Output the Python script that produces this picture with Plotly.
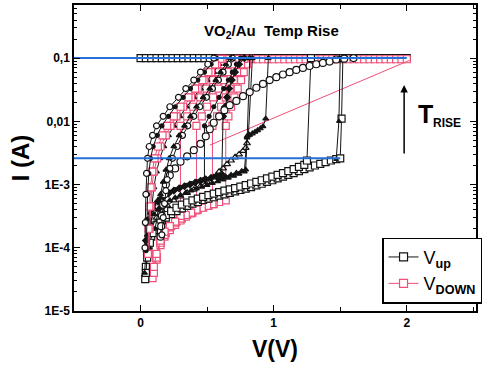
import plotly.graph_objects as go

# ---------------- data: I-V sweeps of the VO2/Au device at rising temperature ----------------
BLACK = "#141414"
PINK = "#ef4f78"
BLUE = "#2470d8"

I_COMPLIANCE = 0.1

# voltage steps of the compliance-limited part of the sweeps
V_ROW = [0.00, 0.04, 0.08, 0.12, 0.16, 0.20, 0.24, 0.28, 0.32, 0.36, 0.40, 0.44, 0.48, 0.52,
         0.56, 0.60, 0.64, 0.68, 0.72, 0.76, 0.80, 0.84, 0.88, 0.92, 0.96, 1.00, 1.04, 1.08,
         1.12, 1.16, 1.20, 1.24, 1.28, 1.32, 1.36, 1.40, 1.44, 1.48, 1.52, 1.56, 1.60, 1.64,
         1.68, 1.72, 1.76, 1.80, 1.84, 1.88, 1.92, 1.96, 2.00]
I_ROW_DOWN = 0.096

# ---- up sweeps: insulating branch, then switching to the metallic state ----
U1_V = [0.035, 0.04, 0.05, 0.06, 0.08, 0.10, 0.13, 0.16, 0.19, 0.23, 0.27, 0.31, 0.35, 0.39,
        0.43, 0.47, 0.51, 0.55, 0.59, 0.63, 0.67, 0.71, 0.75, 0.79, 0.83, 0.87, 0.91, 0.95,
        0.99, 1.03, 1.07, 1.11, 1.15, 1.19, 1.23, 1.27, 1.31, 1.35, 1.39, 1.43, 1.47, 1.50,
        1.51, 1.52]
U1_I = [3.2e-5, 5e-5, 8e-5, 1.1e-4, 1.5e-4, 1.9e-4, 2.3e-4, 2.7e-4, 3.0e-4, 3.4e-4, 3.8e-4,
        4.2e-4, 4.6e-4, 5.0e-4, 5.3e-4, 5.7e-4, 6.0e-4, 6.3e-4, 6.7e-4, 7.0e-4, 7.4e-4, 7.8e-4,
        8.2e-4, 8.6e-4, 9.1e-4, 9.7e-4, 1.03e-3, 1.1e-3, 1.17e-3, 1.25e-3, 1.33e-3, 1.42e-3,
        1.52e-3, 1.63e-3, 1.75e-3, 1.87e-3, 2.0e-3, 2.13e-3, 2.27e-3, 2.4e-3, 2.52e-3, 2.6e-3,
        0.011, 0.1]

U2_V = [0.04, 0.05, 0.07, 0.09, 0.12, 0.15, 0.19, 0.23, 0.27, 0.31, 0.35, 0.39, 0.43, 0.47,
        0.51, 0.55, 0.59, 0.63, 0.67, 0.71, 0.75, 0.79, 0.83, 0.87, 0.91, 0.95, 0.99, 1.03,
        1.07, 1.11, 1.15, 1.19, 1.23, 1.25, 1.28]
U2_I = [4e-5, 7e-5, 1.2e-4, 1.7e-4, 2.3e-4, 2.8e-4, 3.3e-4, 3.8e-4, 4.3e-4, 4.8e-4, 5.2e-4,
        5.6e-4, 6.0e-4, 6.4e-4, 6.8e-4, 7.2e-4, 7.6e-4, 8.0e-4, 8.4e-4, 8.8e-4, 9.3e-4, 9.8e-4,
        1.04e-3, 1.1e-3, 1.17e-3, 1.25e-3, 1.33e-3, 1.42e-3, 1.52e-3, 1.63e-3, 1.76e-3, 1.9e-3,
        2.05e-3, 2.4e-3, 0.1]

U3_V = [0.03, 0.04, 0.05, 0.07, 0.10, 0.14, 0.18, 0.22, 0.26, 0.30, 0.34, 0.38, 0.42, 0.46,
        0.50, 0.54, 0.58, 0.62, 0.66, 0.70, 0.74, 0.78, 0.80, 0.82, 0.84, 0.86, 0.88, 0.90,
        0.92, 0.94, 0.96]
U3_I = [4e-5, 9e-5, 1.6e-4, 2.5e-4, 3.4e-4, 4.2e-4, 4.9e-4, 5.6e-4, 6.2e-4, 6.8e-4, 7.4e-4,
        8.0e-4, 8.6e-4, 9.2e-4, 9.8e-4, 1.05e-3, 1.12e-3, 1.2e-3, 1.28e-3, 1.37e-3, 1.47e-3,
        1.6e-3, 5.8e-3, 6.1e-3, 6.4e-3, 6.8e-3, 7.2e-3, 7.7e-3, 8.3e-3, 0.011, 0.1]

U4_V = [0.05, 0.08, 0.12, 0.16, 0.20, 0.25, 0.30, 0.35, 0.40, 0.45, 0.50, 0.55, 0.59, 0.62,
        0.65, 0.68, 0.71, 0.74, 0.77, 0.79, 0.80, 0.82]
U4_I = [1e-4, 2e-4, 3e-4, 3.9e-4, 4.7e-4, 5.6e-4, 6.5e-4, 7.4e-4, 8.3e-4, 9.4e-4, 1.1e-3,
        1.3e-3, 1.6e-3, 1.8e-3, 2.1e-3, 2.4e-3, 2.7e-3, 3.0e-3, 3.4e-3, 3.8e-3, 4.5e-3, 0.1]

U5_V = [0.04, 0.06, 0.09, 0.13, 0.17, 0.21, 0.25, 0.29, 0.33, 0.37, 0.41, 0.45, 0.49, 0.53,
        0.57, 0.61, 0.62, 0.635, 0.65, 0.665, 0.685, 0.71, 0.74, 0.78]
U5_I = [1.3e-4, 2.8e-4, 4.2e-4, 5.4e-4, 6.4e-4, 7.2e-4, 8.0e-4, 8.7e-4, 9.4e-4, 1.0e-3,
        1.07e-3, 1.14e-3, 1.21e-3, 1.28e-3, 1.36e-3, 1.45e-3, 0.012, 0.017, 0.024, 0.033,
        0.045, 0.06, 0.08, 0.1]

U7_V = [0.60, 0.64, 0.68, 0.72, 0.76, 0.79, 0.80, 0.81, 0.84]
U7_I = [1.25e-3, 1.33e-3, 1.42e-3, 1.52e-3, 1.63e-3, 1.72e-3, 5.5e-3, 6.0e-3, 0.1]

# second switching event close to 1.5 V
U8_V = [1.47, 1.49, 1.50]
U8_I = [2.5e-3, 0.01, 0.1]

# up sweep switching at 0.48 V onto the metallic branch (small dots)
K7_V = [0.035, 0.05, 0.07, 0.10, 0.14, 0.18, 0.22, 0.26, 0.30, 0.34, 0.38, 0.42, 0.46, 0.48,
        0.48, 0.515, 0.55, 0.59, 0.625, 0.66, 0.69, 0.72, 0.75]
K7_I = [1e-4, 2.2e-4, 3.5e-4, 4.8e-4, 5.9e-4, 6.8e-4, 7.6e-4, 8.3e-4, 9.0e-4, 9.7e-4,
        1.04e-3, 1.11e-3, 1.18e-3, 1.22e-3, 0.0085, 0.012, 0.017, 0.024, 0.033, 0.045, 0.06,
        0.08, 0.1]

# slow rising sweep (open circles)
C_V = [0.15, 0.155, 0.16, 0.17, 0.18, 0.19, 0.22, 0.26, 0.30, 0.35, 0.40, 0.45, 0.49, 0.52,
       0.55, 0.59, 0.63, 0.67, 0.72, 0.77, 0.82, 0.87, 0.92, 0.97, 1.02, 1.07, 1.12, 1.17,
       1.22, 1.27, 1.32, 1.37, 1.42, 1.47, 1.53, 1.60]
C_I = [1.5e-4, 2.2e-4, 3.2e-4, 4.8e-4, 7e-4, 1.0e-3, 1.4e-3, 1.8e-3, 2.3e-3, 2.8e-3, 3.5e-3,
       4.4e-3, 5.8e-3, 7.5e-3, 9.5e-3, 0.012, 0.015, 0.018, 0.021, 0.025, 0.029, 0.034, 0.039,
       0.045, 0.05, 0.055, 0.06, 0.065, 0.07, 0.075, 0.08, 0.084, 0.088, 0.095, 0.098, 0.1]

# ---- metallic branches (arcs), outermost first ----
K0_V = [0.55, 0.505, 0.45, 0.40, 0.34, 0.285, 0.22, 0.17, 0.12, 0.09, 0.065, 0.052, 0.045,
        0.04, 0.036, 0.033]
K0_I = [0.1, 0.08, 0.06, 0.045, 0.033, 0.024, 0.017, 0.012, 0.0085, 0.006, 0.004, 0.0026,
        1.5e-3, 7e-4, 2.5e-4, 1e-4]

K1_V = [0.57, 0.53, 0.48, 0.43, 0.375, 0.32, 0.26, 0.21, 0.16, 0.125, 0.095, 0.075, 0.062,
        0.053, 0.047, 0.042]
K1_I = [0.1, 0.08, 0.06, 0.045, 0.033, 0.024, 0.017, 0.012, 0.0085, 0.006, 0.004, 0.0026,
        1.5e-3, 7e-4, 2.8e-4, 9e-5]

K2_V = [0.60, 0.56, 0.51, 0.465, 0.41, 0.36, 0.30, 0.25, 0.20, 0.165, 0.13, 0.105, 0.088,
        0.075, 0.066, 0.06, 0.055]
K2_I = [0.097, 0.08, 0.06, 0.045, 0.033, 0.024, 0.017, 0.012, 0.0085, 0.006, 0.004, 0.0026,
        1.6e-3, 9e-4, 4.5e-4, 2e-4, 8e-5]

K2B_V = [0.615, 0.575, 0.53, 0.48, 0.43, 0.38, 0.32, 0.27, 0.225, 0.19, 0.15, 0.125, 0.10,
         0.085, 0.075, 0.068, 0.062]
K2B_I = [0.097, 0.08, 0.06, 0.045, 0.033, 0.024, 0.017, 0.012, 0.0085, 0.006, 0.004, 0.0026,
         1.6e-3, 9e-4, 4.5e-4, 2e-4, 8e-5]

K3_V = [0.63, 0.59, 0.55, 0.50, 0.45, 0.40, 0.345, 0.295, 0.25, 0.21, 0.175, 0.145, 0.12,
        0.10, 0.085, 0.072, 0.065]
K3_I = [0.1, 0.08, 0.06, 0.045, 0.033, 0.024, 0.017, 0.012, 0.0085, 0.006, 0.004, 0.0026,
        1.6e-3, 9e-4, 4.5e-4, 2e-4, 1e-4]

K4_V = [0.66, 0.625, 0.585, 0.545, 0.495, 0.45, 0.395, 0.35, 0.30, 0.30, 0.26, 0.22, 0.18,
        0.15, 0.12, 0.10]
K4_I = [0.097, 0.08, 0.06, 0.045, 0.033, 0.024, 0.017, 0.012, 0.0085, 3.2e-4, 2.6e-4, 2.2e-4,
        1.8e-4, 1.3e-4, 8e-5, 5e-5]

K4B_V = [0.675, 0.64, 0.60, 0.565, 0.52, 0.47, 0.42, 0.375, 0.33, 0.29, 0.25, 0.215, 0.19,
         0.17, 0.15, 0.13, 0.11]
K4B_I = [0.1, 0.08, 0.06, 0.045, 0.033, 0.024, 0.017, 0.012, 0.0085, 0.006, 0.004, 0.0026,
         1.7e-3, 1.1e-3, 7e-4, 4e-4, 2e-4]

K5_V = [0.69, 0.66, 0.62, 0.585, 0.54, 0.495, 0.445, 0.40, 0.355, 0.315, 0.275, 0.24, 0.22,
        0.20, 0.19, 0.18, 0.17, 0.16]
K5_I = [0.1, 0.08, 0.06, 0.045, 0.033, 0.024, 0.017, 0.012, 0.0085, 0.006, 0.004, 0.0026,
        1.8e-3, 1.2e-3, 8e-4, 5e-4, 3e-4, 1.6e-4]

K6_V = [0.72, 0.69, 0.655, 0.625, 0.585, 0.545, 0.50, 0.46, 0.42, 0.42, 0.38, 0.34, 0.30,
        0.26, 0.22, 0.18, 0.15, 0.12, 0.10]
K6_I = [0.097, 0.08, 0.06, 0.045, 0.033, 0.024, 0.017, 0.012, 0.0085, 4.0e-4, 3.6e-4, 3.3e-4,
        2.9e-4, 2.5e-4, 2.1e-4, 1.6e-4, 1.2e-4, 7e-5, 4e-5]

K8_V = [0.78, 0.755, 0.725, 0.70, 0.67, 0.64, 0.605, 0.575, 0.54, 0.54, 0.50, 0.46, 0.42,
        0.38, 0.34, 0.30, 0.26, 0.22, 0.18, 0.15, 0.12, 0.10]
K8_I = [0.097, 0.08, 0.06, 0.045, 0.033, 0.024, 0.017, 0.012, 0.0085, 4.9e-4, 4.6e-4, 4.3e-4,
        3.9e-4, 3.5e-4, 3.1e-4, 2.7e-4, 2.3e-4, 1.9e-4, 1.5e-4, 1.1e-4, 6.5e-5, 4e-5]

K9_V = [0.82, 0.80, 0.775, 0.755, 0.73, 0.705, 0.68, 0.66, 0.64, 0.64, 0.59, 0.55, 0.51,
        0.47, 0.43, 0.39, 0.35, 0.31, 0.27, 0.23, 0.19, 0.15, 0.12, 0.10, 0.09]
K9_I = [0.097, 0.08, 0.06, 0.045, 0.033, 0.024, 0.017, 0.012, 0.0085, 5.6e-4, 5.3e-4, 4.9e-4,
        4.6e-4, 4.3e-4, 4.0e-4, 3.6e-4, 3.3e-4, 2.9e-4, 2.6e-4, 2.2e-4, 1.7e-4, 1.2e-4, 7e-5,
        4.5e-5, 3.3e-5]

# direct return segment of one down sweep
DS_V = [2.02, 0.52]
DS_I = [0.092, 0.0042]

# reference levels
REF_HIGH_V = [-0.5, 2.0]
REF_HIGH_I = [0.1, 0.1]
REF_LOW_V = [-0.5, 1.5]
REF_LOW_I = [2.6e-3, 2.6e-3]

# axis ticks
X_TICKS = [0, 1, 2]
X_MINOR = [-0.5, 0.5, 1.5, 2.5]
Y_TICKS = [1e-5, 1e-4, 1e-3, 1e-2, 1e-1]
Y_TICKTEXT = ["1E-5", "1E-4", "1E-3", "0,01", "0,1"]

# ---------------- figure ----------------
fig = go.Figure()


def sweep(v, i, color, symbol, size=7, name=None, legend=False, lw=1.0, mlw=1.2, hollow=False):
    # hollow markers: white face with a coloured outline
    fig.add_trace(go.Scatter(
        x=v, y=i, mode="lines+markers", name=name, showlegend=legend,
        line=dict(color=color, width=lw),
        marker=dict(symbol=symbol, size=size, color="white" if hollow else color,
                    line=dict(color=color, width=mlw)),
        hoverinfo="skip"))


# compliance rows
sweep(V_ROW, [I_COMPLIANCE] * len(V_ROW), BLACK, "square", size=7, hollow=True)
sweep(V_ROW[14:], [I_ROW_DOWN] * len(V_ROW[14:]), PINK, "square", size=7, hollow=True)

# down sweeps (pink), innermost first
for v, i in [(K9_V, K9_I), (K8_V, K8_I), (K6_V, K6_I), (K4_V, K4_I)]:
    sweep(v, i, PINK, "square", size=7, hollow=True)
fig.add_trace(go.Scatter(x=DS_V, y=DS_I, mode="lines", showlegend=False,
                         line=dict(color=PINK, width=1), hoverinfo="skip"))

# up sweeps (black)
sweep(U1_V, U1_I, BLACK, "square", size=7, hollow=True)
sweep(U2_V, U2_I, BLACK, "square", size=7, hollow=True)
sweep(U8_V, U8_I, BLACK, "triangle-up", size=4)
sweep(U4_V, U4_I, BLACK, "triangle-up", size=6, hollow=True)
sweep(U3_V, U3_I, BLACK, "triangle-up", size=5)
sweep(U7_V, U7_I, BLACK, "triangle-up", size=5)
sweep(U5_V, U5_I, BLACK, "diamond", size=5)
sweep(K7_V, K7_I, BLACK, "circle", size=4)
sweep(C_V, C_I, BLACK, "circle", size=7, hollow=True)
sweep(K5_V, K5_I, BLACK, "circle", size=6, hollow=True)
sweep(K4B_V, K4B_I, BLACK, "triangle-up", size=5)

# outer metallic arcs
sweep(K3_V, K3_I, BLACK, "triangle-up", size=5)
sweep(K2B_V, K2B_I, PINK, "square", size=7, hollow=True)
sweep(K2_V, K2_I, PINK, "square", size=7, hollow=True)
sweep(K1_V, K1_I, BLACK, "circle", size=4)
sweep(K0_V, K0_I, BLACK, "circle", size=6, hollow=True)

# reference levels
for v, i in [(REF_HIGH_V, REF_HIGH_I), (REF_LOW_V, REF_LOW_I)]:
    fig.add_trace(go.Scatter(x=v, y=i, mode="lines", showlegend=False,
                             line=dict(color=BLUE, width=2), hoverinfo="skip"))

# legend entries
sweep([None], [None], BLACK, "square", size=8, name="V<sub><b>up</b></sub>",
      legend=True, hollow=True)
sweep([None], [None], PINK, "square", size=8, name="V<sub><b>DOWN</b></sub>",
      legend=True, hollow=True)

FONT = "Liberation Sans, Arial, sans-serif"

fig.update_layout(
    width=483, height=375,
    margin=dict(l=74, r=1, t=5, b=64),
    paper_bgcolor="white", plot_bgcolor="white",
    font=dict(family=FONT, color="black"),
    legend=dict(x=0.767, y=0.24, xanchor="left", yanchor="top",
                bordercolor="black", borderwidth=1.2, bgcolor="white",
                font=dict(size=18, family=FONT, color="black"),
                itemwidth=30, tracegroupgap=0),
    xaxis=dict(range=[-0.5, 2.52], tickmode="array", tickvals=X_TICKS,
               ticks="inside", ticklen=6, tickwidth=1.2, tickcolor="black",
               showline=True, linecolor="black", linewidth=1.5, mirror="ticks",
               showgrid=False, zeroline=False,
               tickfont=dict(size=12, family=FONT, weight="bold"),
               minor=dict(tickmode="array", tickvals=X_MINOR, ticks="inside",
                          ticklen=4, tickcolor="black", showgrid=False),
               title=dict(text="<b>V(V)</b>", font=dict(size=23, family=FONT),
                          standoff=12)),
    yaxis=dict(type="log", range=[-5, -0.16], tickmode="array", tickvals=Y_TICKS,
               ticktext=Y_TICKTEXT,
               ticks="inside", ticklen=6, tickwidth=1.2, tickcolor="black",
               showline=True, linecolor="black", linewidth=1.5, mirror="ticks",
               showgrid=False, zeroline=False,
               tickfont=dict(size=12, family=FONT, weight="bold"),
               minor=dict(tickmode="array",
                          tickvals=[m * 10.0 ** e for e in range(-5, 0) for m in range(2, 10)],
                          ticks="inside", ticklen=3, tickcolor="black", showgrid=False),
               title=dict(text="<b>I (A)</b>", font=dict(size=24, family=FONT),
                          standoff=8)),
)

# panel title
fig.add_annotation(x=0.98, y=0.95, xref="x", yref="paper", showarrow=False,
                   text="<b>VO<sub>2</sub>/Au\u00a0\u00a0Temp Rise</b>",
                   font=dict(size=15, family=FONT, color="black"))

# temperature arrow
fig.add_annotation(x=1.98, y=(311 - 85) / 306, xref="x", yref="paper",
                   ax=0, ay=70, axref="pixel", ayref="pixel", text="",
                   showarrow=True, arrowhead=2, arrowsize=1, arrowwidth=1.5,
                   arrowcolor="black")
fig.add_annotation(x=2.07, y=0.645, xref="x", yref="paper", xanchor="left",
                   showarrow=False, text="<b>T</b>",
                   font=dict(size=25, family=FONT, color="black"))
fig.add_annotation(x=2.18, y=0.615, xref="x", yref="paper", xanchor="left",
                   showarrow=False, text="<b>RISE</b>",
                   font=dict(size=12, family=FONT, color="black"))

fig.write_html("out.html")
